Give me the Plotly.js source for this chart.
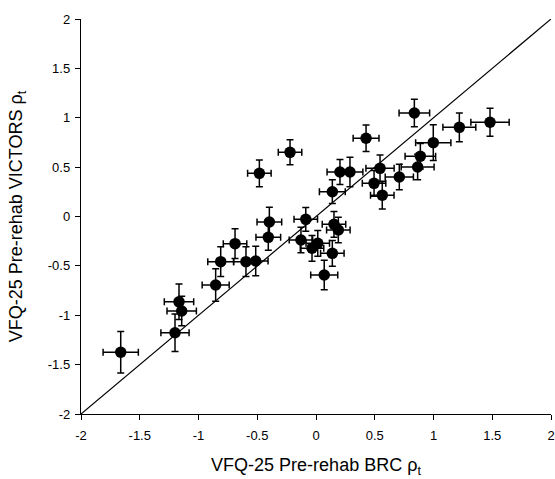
<!DOCTYPE html>
<html>
<head>
<meta charset="utf-8">
<script src="https://cdn.plot.ly/plotly-3.0.1.min.js"></script>
<style>html,body{margin:0;padding:0;background:#fff;}#chart{width:555px;height:479px;}</style>
</head>
<body>
<div id="chart"></div>
<script>
// BRC person measures (x) and VICTORS person measures (y)
const brc = [-1.662,-1.200,-1.143,-1.166,-0.854,-0.811,-0.596,-0.513,-0.689,-0.406,-0.397,-0.482,-0.221,-0.128,-0.087,-0.034,0.015,0.139,0.070,0.153,0.190,0.139,0.204,0.289,0.426,0.494,0.564,0.545,0.709,0.865,0.888,0.998,0.837,1.220,1.481];
const victors = [-1.375,-1.177,-0.957,-0.864,-0.694,-0.457,-0.457,-0.451,-0.275,-0.211,-0.056,0.437,0.650,-0.238,-0.029,-0.322,-0.272,-0.373,-0.592,-0.079,-0.137,0.251,0.451,0.451,0.792,0.336,0.216,0.488,0.400,0.501,0.610,0.748,1.048,0.903,0.954];
const brcErr = [0.15,0.12,0.125,0.125,0.115,0.11,0.105,0.105,0.10,0.105,0.105,0.10,0.10,0.10,0.10,0.10,0.10,0.10,0.115,0.10,0.10,0.11,0.11,0.11,0.11,0.10,0.10,0.12,0.12,0.14,0.13,0.15,0.13,0.14,0.163];
const victorsErr = [0.21,0.19,0.15,0.18,0.165,0.15,0.15,0.15,0.15,0.13,0.15,0.135,0.127,0.13,0.12,0.13,0.13,0.13,0.15,0.13,0.13,0.12,0.127,0.15,0.135,0.13,0.14,0.135,0.13,0.13,0.13,0.18,0.14,0.145,0.142];
const identityLine = [-2, 2];
const tickVals = [-2,-1.5,-1,-0.5,0,0.5,1,1.5,2];
const tickText = ['-2','-1.5','-1','-0.5','0','0.5','1','1.5','2'];

const traces = [
  {x: identityLine, y: identityLine, mode: 'lines', type: 'scatter',
   line: {color: '#000', width: 1.2}, hoverinfo: 'skip', showlegend: false},
  {x: brc, y: victors, mode: 'markers', type: 'scatter', showlegend: false,
   marker: {color: '#000', size: 11.5},
   error_x: {type: 'data', array: brcErr, visible: true, color: '#000', thickness: 1.5, width: 3.5},
   error_y: {type: 'data', array: victorsErr, visible: true, color: '#000', thickness: 1.5, width: 3.5}}
];

const axisCommon = {
  range: [-2, 2], tickmode: 'array', tickvals: tickVals, ticktext: tickText,
  showgrid: false, zeroline: false, showline: true, linecolor: '#000', linewidth: 1.2,
  ticks: 'outside', ticklen: 5, tickwidth: 1, tickcolor: '#000',
  tickfont: {family: 'Liberation Sans, Arial, sans-serif', size: 13, color: '#000'}
};

const layout = {
  width: 555, height: 479,
  margin: {l: 81, r: 4, t: 19, b: 65},
  paper_bgcolor: '#fff', plot_bgcolor: '#fff',
  xaxis: Object.assign({}, axisCommon, {
    ticklabelstandoff: 4,
    title: {text: 'VFQ-25 Pre-rehab BRC ρ<sub>t</sub>', standoff: 16,
      font: {family: 'Liberation Sans, Arial, sans-serif', size: 18, color: '#000'}}
  }),
  yaxis: Object.assign({}, axisCommon, {
    ticklabelstandoff: 2,
    title: {text: 'VFQ-25 Pre-rehab VICTORS ρ<sub>t</sub>', standoff: 20,
      font: {family: 'Liberation Sans, Arial, sans-serif', size: 18, color: '#000'}}
  })
};

Plotly.newPlot('chart', traces, layout, {displayModeBar: false, staticPlot: true});
</script>
</body>
</html>
